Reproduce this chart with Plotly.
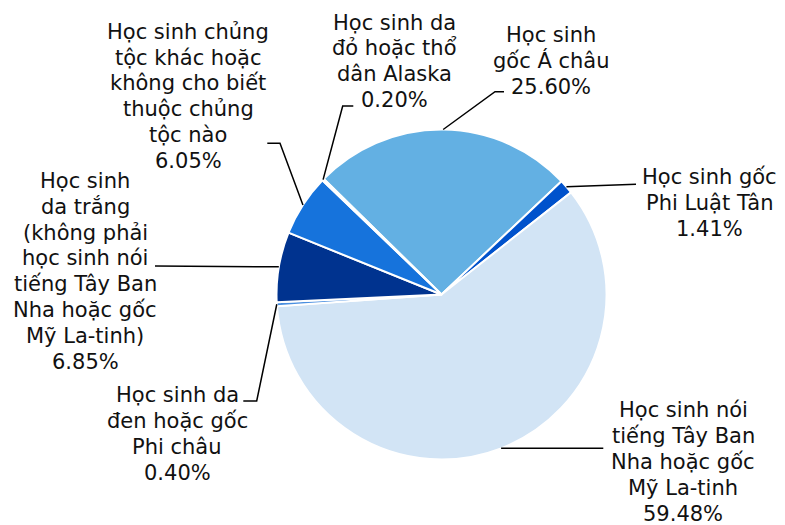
import math
import plotly.graph_objects as go

# window size and the page's default body margin (the figure is drawn offset by it)
WIN_W, WIN_H = 785, 525
OFF = 8
W, H = WIN_W - OFF, WIN_H - OFF

# ---- data (clockwise order, starting with the Asian slice) ----
categories = [
    "Học sinh gốc Á châu",
    "Học sinh gốc Phi Luật Tân",
    "Học sinh nói tiếng Tây Ban Nha hoặc gốc Mỹ La-tinh",
    "Học sinh da đen hoặc gốc Phi châu",
    "Học sinh da trắng (không phải học sinh nói tiếng Tây Ban Nha hoặc gốc Mỹ La-tinh)",
    "Học sinh chủng tộc khác hoặc không cho biết thuộc chủng tộc nào",
    "Học sinh da đỏ hoặc thổ dân Alaska",
]
values = [25.60, 1.41, 59.48, 0.40, 6.85, 6.05, 0.20]
label_lines = [
    ["Học sinh", "gốc Á châu"],
    ["Học sinh gốc", "Phi Luật Tân"],
    ["Học sinh nói", "tiếng Tây Ban", "Nha hoặc gốc", "Mỹ La-tinh"],
    ["Học sinh da", "đen hoặc gốc", "Phi châu"],
    ["Học sinh", "da trắng", "(không phải", "học sinh nói", "tiếng Tây Ban",
     "Nha hoặc gốc", "Mỹ La-tinh)"],
    ["Học sinh chủng", "tộc khác hoặc", "không cho biết", "thuộc chủng", "tộc nào"],
    ["Học sinh da", "đỏ hoặc thổ", "dân Alaska"],
]

# ---- styles / layout (pixel positions in the window) ----
colors = ["#63B0E3", "#0052CC", "#D2E4F5", "#4A8FE0", "#00338F", "#1673DC", "#1E5BC6"]
rotation = -45.5
cx, cy, R = 441.5, 294.5, 165.0
FONT = "Verdana, DejaVu Sans, sans-serif"
FS = 21
LINE_H = 25.9
# label centre x, first line y (px)
label_pos = [(551, 35), (709, 176.7), (683, 410), (177, 395), (85, 180.7),
             (188, 31.7), (394, 22.5)]
# leader line waypoints after the slice edge point (px)
leader_pts = [
    [(495, 91.7), (504, 91.7)],
    [(636, 184.3)],
    [(603.3, 448.3)],
    [(256.7, 401), (243.3, 401)],
    [(155, 266)],
    [(280, 143.3), (267.3, 143.3)],
    [(342.7, 106), (353.3, 106)],
]


def px(x, y):
    return (x - OFF) / W, 1 - (y - OFF) / H


x0, y1 = px(cx - R, cy - R)
x1, y0 = px(cx + R, cy + R)
fig = go.Figure(go.Pie(
    labels=categories, values=values, sort=False, direction="clockwise",
    rotation=rotation, textinfo="none", hoverinfo="label+percent",
    marker=dict(colors=colors, line=dict(color="white", width=2)),
    domain=dict(x=[x0, x1], y=[y0, y1]),
    showlegend=False,
))

total = sum(values)
ang = 90 - rotation
annotations, shapes = [], []
for v, lines, (lx, ly), pts in zip(values, label_lines, label_pos, leader_pts):
    span = 360 * v / total
    mid = math.radians(ang - span / 2)
    ang -= span
    sx, sy = cx + R * math.cos(mid), cy - R * math.sin(mid)
    path_pts = [(sx, sy)] + pts
    p = "M " + " L ".join(f"{px(a, b)[0]:.5f},{px(a, b)[1]:.5f}" for a, b in path_pts)
    shapes.append(dict(type="path", xref="paper", yref="paper", path=p,
                       line=dict(color="black", width=1.5)))
    all_lines = lines + [f"{v:.2f}%"]
    for i, t in enumerate(all_lines):
        x, y = px(lx, ly + i * LINE_H)
        annotations.append(dict(text=t, x=x, y=y, xref="paper", yref="paper",
                                xanchor="center", yanchor="middle", showarrow=False,
                                font=dict(family=FONT, size=FS, color="#111111")))

fig.update_layout(width=W, height=H, margin=dict(l=0, r=0, t=0, b=0),
                  paper_bgcolor="white", plot_bgcolor="white",
                  annotations=annotations, shapes=shapes)
fig.write_html("out.html")
